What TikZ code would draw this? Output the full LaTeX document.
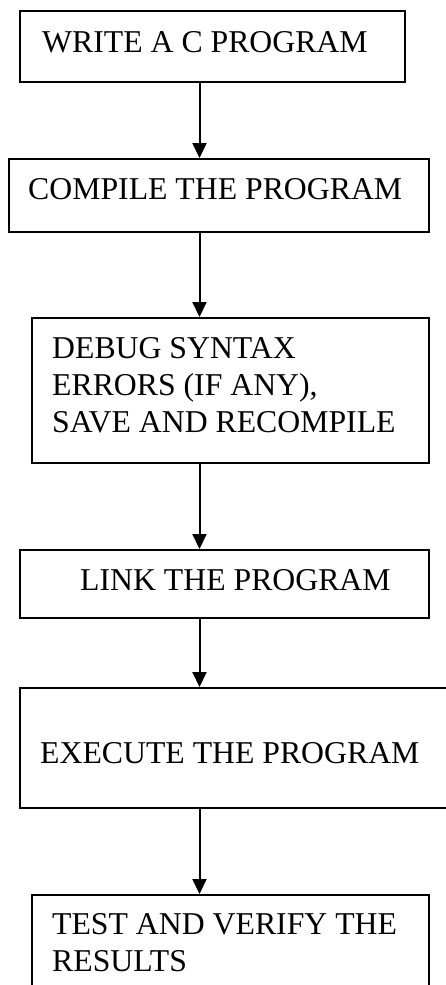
\documentclass[tikz,border=0pt]{standalone}
\usepackage{fontspec}
\setmainfont{Liberation Serif}
\usetikzlibrary{arrows.meta}
\begin{document}
\begin{tikzpicture}[x=1pt,y=-1pt,
  box/.style={draw=black,line width=2pt,rectangle,inner sep=0pt,anchor=north west},
  lbl/.style={inner sep=0pt,anchor=base west,align=left,font=\fontsize{31.75}{36.7}\selectfont},
  flow/.style={line width=2pt,-{Triangle[length=15pt,width=14pt]}}]
\useasboundingbox (0,0) rectangle (445,985);
\fill[white] (0,0) rectangle (445,985);
\node[box,minimum width=385pt,minimum height=71pt] (b1) at (19,10) {};
\node[box,minimum width=420.5pt,minimum height=73pt] (b2) at (7.5,158) {};
\node[box,minimum width=397pt,minimum height=145pt] (b3) at (31,317) {};
\node[box,minimum width=409pt,minimum height=68pt] (b4) at (19,549) {};
\node[box,minimum width=460pt,minimum height=120pt] (b5) at (19,687) {};
\node[box,minimum width=397pt,minimum height=120pt] (b6) at (31,894) {};
\node[lbl] (t1) at (42,52) {WRITE A C PROGRAM};
\node[lbl] (t2) at (28,199) {COMPILE THE PROGRAM};
\node[lbl] (t3) at (52,432) {DEBUG SYNTAX\\ERRORS (IF ANY),\\SAVE AND RECOMPILE};
\node[lbl] (t4) at (80,590) {LINK THE PROGRAM};
\node[lbl] (t5) at (40,763) {EXECUTE THE PROGRAM};
\node[lbl] (t6) at (52,971) {TEST AND VERIFY THE\\RESULTS};
\coordinate (ax) at (199.5,0);
\draw[flow] (b1.south -| ax) -- (b2.north -| ax);
\draw[flow] (b2.south -| ax) -- (b3.north -| ax);
\draw[flow] (b3.south -| ax) -- (b4.north -| ax);
\draw[flow] (b4.south -| ax) -- (b5.north -| ax);
\draw[flow] (b5.south -| ax) -- (b6.north -| ax);
\end{tikzpicture}
\end{document}
